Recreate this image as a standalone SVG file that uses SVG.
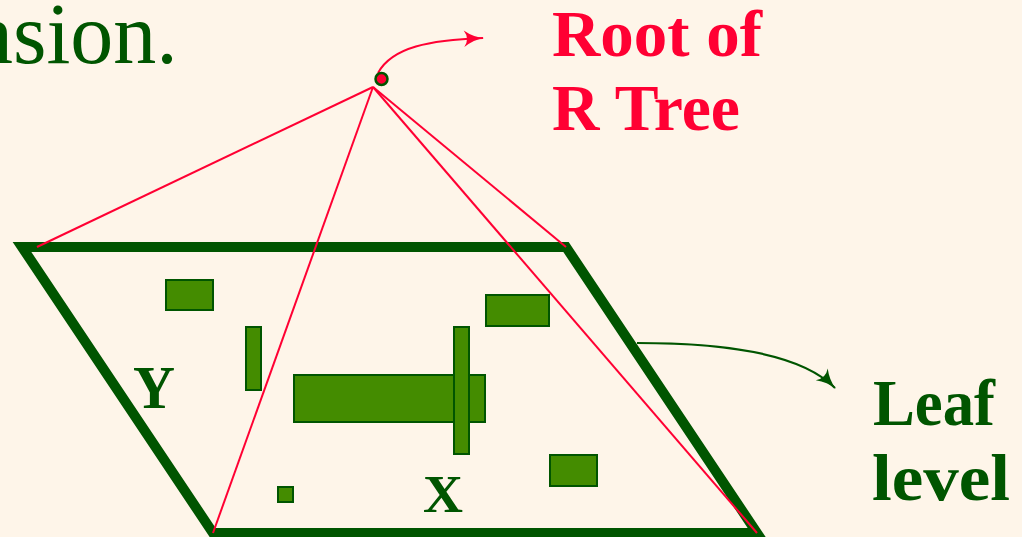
<svg xmlns="http://www.w3.org/2000/svg" width="1022" height="537" viewBox="0 0 1022 537">
<defs>
<style>
.bg{fill:#fef5e9}
.plane{fill:none;stroke:#005500;stroke-width:10;stroke-linejoin:miter}
.red{fill:none;stroke:#ff0033;stroke-width:2}
.box{fill:#448c00;stroke:#005500;stroke-width:2}
.gtxt{fill:#005500;font-family:"Liberation Serif",serif}
.rtxt{fill:#ff0033;font-family:"Liberation Serif",serif;font-weight:bold;font-size:65px}
</style>
<marker id="arrR" viewBox="0 0 20 16" refX="18" refY="8" markerWidth="24" markerHeight="19" markerUnits="userSpaceOnUse" orient="auto">
<path d="M2,1 Q10,7 19,8 Q10,9 2,15 Q7,8 2,1 Z" fill="#ff0033"/>
</marker>
<marker id="arrG" viewBox="0 0 20 16" refX="18" refY="8" markerWidth="24" markerHeight="19" markerUnits="userSpaceOnUse" orient="auto">
<path d="M2,1 Q10,7 19,8 Q10,9 2,15 Q7,8 2,1 Z" fill="#005500"/>
</marker>
</defs>
<rect class="bg" x="0" y="0" width="1022" height="537"/>
<g id="title">
<text class="gtxt" x="-30" y="63" font-size="86">nsion.</text>
</g>
<g id="leaf-plane">
<path class="plane" d="M22,247 L566,247 L757,533 L213,533 Z"/>
</g>
<g id="rects">
<rect class="box" x="166" y="280" width="47" height="30"/>
<rect class="box" x="246" y="327" width="15" height="63"/>
<rect class="box" x="278" y="487" width="15" height="15"/>
<rect class="box" x="294" y="375" width="191" height="47"/>
<rect class="box" x="454" y="327" width="15" height="127"/>
<rect class="box" x="486" y="295" width="63" height="31"/>
<rect class="box" x="550" y="455" width="47" height="31"/>
</g>
<g id="axes">
<text class="gtxt" x="133" y="408" font-size="62" font-weight="bold" textLength="42" lengthAdjust="spacingAndGlyphs">Y</text>
<text class="gtxt" x="423" y="512" font-size="52" font-weight="bold" textLength="40" lengthAdjust="spacingAndGlyphs">X</text>
</g>
<g id="connectors">
<line class="red" x1="373" y1="87" x2="37" y2="247"/>
<line class="red" x1="373" y1="87" x2="213" y2="533"/>
<line class="red" x1="373" y1="87" x2="566" y2="247"/>
<line class="red" x1="373" y1="87" x2="757" y2="533"/>
<path class="red" d="M378,73 C392,47 430,40 483,38" stroke-width="2.5" marker-end="url(#arrR)"/>
<path d="M637,343 C720,343 800,352 835,388" fill="none" stroke="#005500" stroke-width="2" marker-end="url(#arrG)"/>
</g>
<g id="root-node">
<circle cx="381.5" cy="79" r="6" fill="#ff0033" stroke="#005500" stroke-width="2.5"/>
</g>
<g id="root-label">
<text class="rtxt" x="552" y="56" textLength="210" lengthAdjust="spacingAndGlyphs">Root of</text>
<text class="rtxt" x="552" y="130" textLength="188" lengthAdjust="spacingAndGlyphs">R Tree</text>
</g>
<g id="leaf-label">
<text class="gtxt" x="873" y="425" font-size="65" font-weight="bold" textLength="122" lengthAdjust="spacingAndGlyphs">Leaf</text>
<text class="gtxt" x="872" y="500" font-size="65" font-weight="bold" textLength="138" lengthAdjust="spacingAndGlyphs">level</text>
</g>
</svg>
